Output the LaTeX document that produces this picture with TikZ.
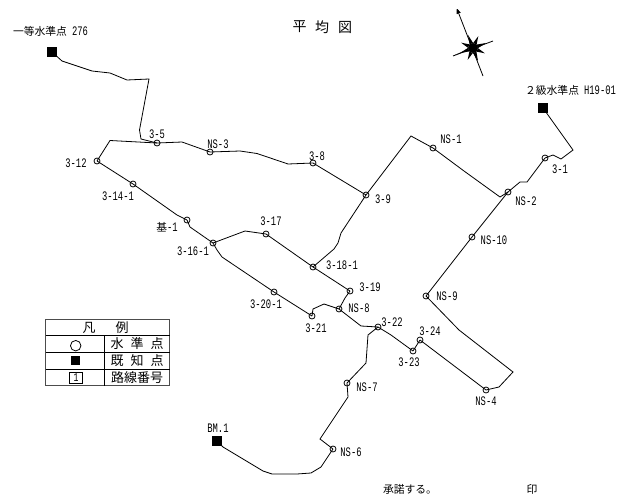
\documentclass[tikz,border=0pt]{standalone}
\usepackage{fontspec}
\usetikzlibrary{arrows}
\newfontfamily\jpfont{Noto Sans CJK JP}
\newfontfamily\numfont[FakeStretch=0.68]{Liberation Mono}
\newcommand{\numtext}{\numfont\fontsize{13}{13}\selectfont}

\begin{document}
\begin{tikzpicture}[x=1pt,y=-1pt,line width=0.8pt,
	pt/.style={circle,draw,inner sep=0pt,minimum size=6pt},
	known/.style={rectangle,fill=black,inner sep=0pt,minimum size=10.5pt},
	lbl/.style={inner sep=0pt,font=\numtext},
	jp/.style={inner sep=0pt,font=\jpfont\fontsize{10.8}{11}\selectfont},
	big/.style={inner sep=0pt,font=\jpfont\fontsize{14}{14}\selectfont},
	leg/.style={inner sep=0pt,font=\jpfont\fontsize{13}{14}\selectfont}]
	\useasboundingbox (0,0) rectangle (622,498);

	% known points
	\node[known] (a276) at (52,52) {};
	\node[known] (h19) at (543,108) {};
	\node[known] (bm1) at (217,441) {};

	% level points
	\node[pt] (p5) at (157,143) {};
	\node[pt] (p12) at (97,161) {};
	\node[pt] (ns3) at (210,152) {};
	\node[pt] (p8) at (313,163) {};
	\node[pt] (p9) at (366,195) {};
	\node[pt] (ns1) at (433,148) {};
	\node[pt] (ns2) at (508,192) {};
	\node[pt] (p1) at (545,158) {};
	\node[pt] (ns10) at (472,237) {};
	\node[pt] (ns9) at (426,296) {};
	\node[pt] (p14) at (133,184) {};
	\node[pt] (k1) at (187,220) {};
	\node[pt] (p16) at (213,243) {};
	\node[pt] (p17) at (266,234) {};
	\node[pt] (p18) at (313,267) {};
	\node[pt] (p19) at (350,291) {};
	\node[pt] (ns8) at (339,309) {};
	\node[pt] (p20) at (274,292) {};
	\node[pt] (p21) at (312,316) {};
	\node[pt] (p22) at (378,327) {};
	\node[pt] (p23) at (413,351) {};
	\node[pt] (p24) at (420,340) {};
	\node[pt] (ns4) at (486,390) {};
	\node[pt] (ns7) at (347,383) {};
	\node[pt] (ns6) at (333,449) {};

	% routes
	\draw (a276.center) -- (62,61) -- (92,71) -- (110,73) -- (127,80) -- (149,79) -- (139.5,130) -- (141,139) -- (p5.center);
	\draw (p12.center) -- (110,140.5) -- (p5.center);
	\draw (p5.center) -- (182,142) -- (ns3.center);
	\draw (ns3.center) -- (240,151) -- (257,153.5) -- (288,164) -- (p8.center);
	\draw (p8.center) -- (p9.center);
	\draw (p9.center) -- (411,136) -- (ns1.center);
	\draw (ns1.center) -- (464,171) -- (500,197) -- (ns2.center);
	\draw (ns2.center) -- (520,182) -- (527,182) -- (p1.center);
	\draw (p1.center) -- (553,155) -- (561,159) -- (573,150) -- (h19.center);
	\draw (p9.center) -- (341,233) -- (338,243) -- (334,249) -- (p18.center);
	\draw (p18.center) -- (p19.center);
	\draw (p19.center) -- (345,298) -- (ns8.center);
	\draw (ns8.center) -- (324,304) -- (313,309) -- (p21.center);
	\draw (ns8.center) -- (361,326) -- (p22.center);
	\draw (p22.center) -- (391,335) -- (p23.center);
	\draw (p23.center) -- (p24.center);
	\draw (p24.center) -- (ns4.center);
	\draw (ns4.center) -- (499,387) -- (513,372) -- (459,330) -- (ns9.center);
	\draw (ns9.center) -- (ns10.center);
	\draw (ns10.center) -- (ns2.center);
	\draw (p22.center) -- (368,335) -- (366,363) -- (ns7.center);
	\draw (ns7.center) -- (348,397) -- (320,439) -- (ns6.center);
	\draw (ns6.center) -- (321,467) -- (311,473) -- (297,474) -- (272,474) -- (263,471) -- (223,447) -- (bm1.center);
	\draw (p12.center) -- (p14.center);
	\draw (p14.center) -- (177,215) -- (k1.center);
	\draw (k1.center) -- (190,227) -- (p16.center);
	\draw (p16.center) -- (217,250) -- (222,257) -- (p20.center);
	\draw (p20.center) -- (p21.center);
	\draw (p16.center) -- (245,231) -- (p17.center);
	\draw (p17.center) -- (p18.center);

	% labels
	\node[jp] (ta276) at (50.5,31) {一等水準点\hspace{5pt}{\numtext 276}};
	\node[jp] (th19) at (570.5,90) {２級水準点\hspace{5pt}{\numtext H19-01}};
	\node[lbl] (tbm1) at (218,428) {BM.1};
	\node[lbl] (tp5) at (157,134) {3-5};
	\node[lbl] (tns3) at (218,144) {NS-3};
	\node[lbl] (tp12) at (76,163) {3-12};
	\node[lbl] (tp14) at (118,196) {3-14-1};
	\node[jp] (tk1) at (167,227) {基{\numtext -1}};
	\node[lbl] (tp17) at (271,221) {3-17};
	\node[lbl] (tp16) at (193,251) {3-16-1};
	\node[lbl] (tp8) at (317,156) {3-8};
	\node[lbl] (tp9) at (383,199) {3-9};
	\node[lbl] (tns1) at (451,139) {NS-1};
	\node[lbl] (tns2) at (526,201) {NS-2};
	\node[lbl] (tp1) at (560,169) {3-1};
	\node[lbl] (tns10) at (494,240) {NS-10};
	\node[lbl] (tp18) at (342,265) {3-18-1};
	\node[lbl] (tp19) at (370,287) {3-19};
	\node[lbl] (tns8) at (359,308) {NS-8};
	\node[lbl] (tp22) at (392,322) {3-22};
	\node[lbl] (tp24) at (430,331) {3-24};
	\node[lbl] (tp23) at (409,362) {3-23};
	\node[lbl] (tns9) at (447,296) {NS-9};
	\node[lbl] (tns4) at (486,401) {NS-4};
	\node[lbl] (tns7) at (367,387) {NS-7};
	\node[lbl] (tns6) at (351,452) {NS-6};
	\node[lbl] (tp21) at (316,328) {3-21};
	\node[lbl] (tp20) at (266,304) {3-20-1};

	% title and foot
	\node[big] (t1) at (299.5,27) {平};
	\node[big] (t2) at (322,27) {均};
	\node[big] (t3) at (345,27) {図};
	\node[jp] (foot1) at (410,489) {承諾する。};
	\node[jp] (foot2) at (532,489) {印};

	% north mark
	\coordinate (cn) at (473,48);
	\coordinate (nth) at (457,9);
	\coordinate (sth) at (483,76);
	\coordinate (wst) at (453,56);
	\coordinate (est) at (493,41);
	\draw[>=stealth',->] (sth) -- (nth);
	\draw (wst) -- (est);
	\foreach \a in {21,111,201,291} {
		\fill[shift={(cn)}] (\a:14pt) -- (\a+22:5pt) -- (\a-22:5pt) -- cycle;
		\fill[shift={(cn)}] (\a+45:13pt) -- (\a+67:5pt) -- (\a+23:5pt) -- cycle;
	}
	\fill (cn) circle (5pt);
	\fill[shift={(cn)}] (201:21pt) -- (206:6pt) -- (196:6pt) -- cycle;

	% legend
	\coordinate (lg1) at (45.5,319);
	\coordinate (lg2) at (169.5,385.7);
	\coordinate (lg3) at (104.3,335.7);
	\coordinate (lg4) at (104.3,385.7);
	\draw[line width=1pt,black!70] (lg1) rectangle (lg2);
	\draw (45.5,335.7) -- (169.5,335.7) (45.5,352.3) -- (169.5,352.3) (45.5,369.3) -- (169.5,369.3);
	\draw (lg3) -- (lg4);
	\node[leg] (h1) at (89,328) {凡};
	\node[leg] (h2) at (122,328) {例};
	\node[circle,draw,inner sep=0pt,minimum size=10.5pt] (sy1) at (75.7,345.7) {};
	\node[rectangle,fill=black,inner sep=0pt,minimum size=9.5pt] (sy2) at (75.7,360.7) {};
	\node[rectangle,draw,inner sep=0pt,minimum width=12.5pt,minimum height=11pt,font=\numfont\fontsize{12}{12}\selectfont] (sy3) at (76,378) {1};
	\node[leg] (w1) at (117,344) {水};
	\node[leg] (w2) at (137,344) {準};
	\node[leg] (w3) at (157,344) {点};
	\node[leg] (k1t) at (117,360.5) {既};
	\node[leg] (k2t) at (137,360.5) {知};
	\node[leg] (k3t) at (157,360.5) {点};
	\node[leg] (r1) at (137,377.5) {路線番号};
\end{tikzpicture}
\end{document}
